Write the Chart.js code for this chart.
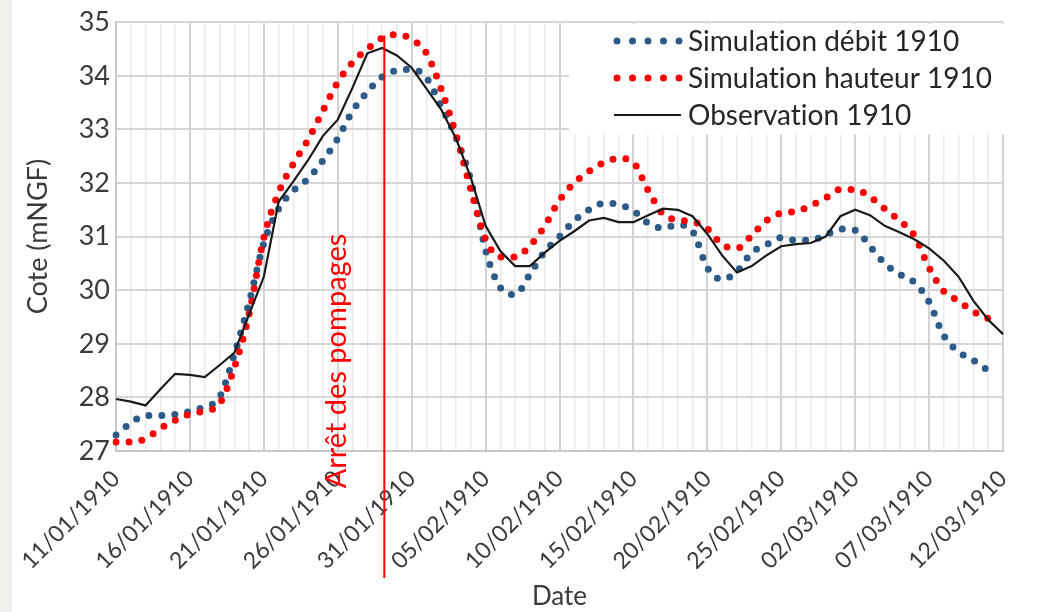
<!DOCTYPE html>
<html lang="fr">
<head>
<meta charset="utf-8">
<title>Cote 1910</title>
<script src="https://cdn.jsdelivr.net/npm/chart.js@4.4.1/dist/chart.umd.min.js"></script>
<style>
  body { margin: 0; background: #fff; }
  #wrap { width: 1038px; height: 612px; }
</style>
</head>
<body>
<div id="wrap"><canvas id="chart" width="1038" height="612"></canvas></div>
<script>
// daily dates, 11/01/1910 -> 12/03/1910
const dates = [
  '11/01/1910','12/01/1910','13/01/1910','14/01/1910','15/01/1910','16/01/1910','17/01/1910',
  '18/01/1910','19/01/1910','20/01/1910','21/01/1910','22/01/1910','23/01/1910','24/01/1910',
  '25/01/1910','26/01/1910','27/01/1910','28/01/1910','29/01/1910','30/01/1910','31/01/1910',
  '01/02/1910','02/02/1910','03/02/1910','04/02/1910','05/02/1910','06/02/1910','07/02/1910',
  '08/02/1910','09/02/1910','10/02/1910','11/02/1910','12/02/1910','13/02/1910','14/02/1910',
  '15/02/1910','16/02/1910','17/02/1910','18/02/1910','19/02/1910','20/02/1910','21/02/1910',
  '22/02/1910','23/02/1910','24/02/1910','25/02/1910','26/02/1910','27/02/1910','28/02/1910',
  '01/03/1910','02/03/1910','03/03/1910','04/03/1910','05/03/1910','06/03/1910','07/03/1910',
  '08/03/1910','09/03/1910','10/03/1910','11/03/1910','12/03/1910'
];

const simDebit = [
  27.30, 27.52, 27.66, 27.66, 27.68, 27.74, 27.83, 28.00, 28.80, 29.77,
  30.88, 31.52, 31.86, 32.08, 32.42, 32.83, 33.34, 33.70, 33.98, 34.10,
  34.12, 33.96, 33.43, 32.85, 32.05, 30.75, 30.05, 29.92, 30.30, 30.72,
  31.00, 31.30, 31.50, 31.62, 31.60, 31.48, 31.25, 31.16, 31.22, 31.10,
  30.42, 30.20, 30.35, 30.70, 30.85, 30.98, 30.93, 30.93, 31.03, 31.14,
  31.12, 30.82, 30.50, 30.30, 30.15, 29.78, 29.15, 28.85, 28.69, 28.50, null
];

const simHauteur = [
  27.17, 27.17, 27.23, 27.42, 27.57, 27.69, 27.75, 27.88, 28.55, 29.55,
  30.98, 31.82, 32.36, 32.81, 33.35, 33.88, 34.25, 34.50, 34.70, 34.77,
  34.68, 34.42, 33.75, 32.90, 31.88, 30.95, 30.62, 30.62, 30.83, 31.20,
  31.68, 32.00, 32.22, 32.38, 32.46, 32.38, 31.86, 31.42, 31.31, 31.28,
  31.15, 30.85, 30.78, 31.02, 31.30, 31.44, 31.47, 31.58, 31.72, 31.88,
  31.88, 31.74, 31.52, 31.30, 31.02, 30.42, 29.98, 29.80, 29.60, 29.47, null
];

const observation = [
  27.97, 27.92, 27.85, 28.15, 28.44, 28.42, 28.38, 28.60, 28.83, 29.55,
  30.25, 31.65, 32.03, 32.43, 32.88, 33.18, 33.78, 34.42, 34.52, 34.38,
  34.15, 33.76, 33.37, 32.83, 32.10, 31.20, 30.73, 30.45, 30.45, 30.70,
  30.92, 31.10, 31.30, 31.35, 31.27, 31.27, 31.40, 31.52, 31.50, 31.38,
  31.05, 30.65, 30.33, 30.45, 30.65, 30.82, 30.86, 30.88, 31.00, 31.38,
  31.50, 31.40, 31.20, 31.08, 30.95, 30.78, 30.55, 30.25, 29.80, 29.45, 29.18
];

const seriesNames = ['Simulation débit 1910', 'Simulation hauteur 1910', 'Observation 1910'];
const yMin = 27, yMax = 35;

// stop of the pumping, between 29/01 and 30/01
const pumpStopIndex = 18.15;
const pumpStopLabel = 'Arrêt des pompages';

const FONT = 'Lato, "Open Sans", sans-serif';
const TEXT = '#3a3a3a';

const background = {
  id: 'background',
  beforeDraw(chart) {
    const ctx = chart.ctx;
    ctx.save();
    ctx.fillStyle = '#ffffff';
    ctx.fillRect(0, 0, chart.width, chart.height);
    ctx.fillStyle = '#f1f0ec';
    ctx.fillRect(0, 0, 12, chart.height);
    ctx.restore();
  }
};

// white legend panel drawn over the grid, top right
const legendPanel = {
  id: 'legendPanel',
  beforeDatasetsDraw(chart) {
    const { ctx, chartArea } = chart;
    const left = 569;
    ctx.save();
    ctx.fillStyle = '#ffffff';
    ctx.fillRect(left, chartArea.top + 1.5, chartArea.right - left + 3, 133 - chartArea.top);

    chart.data.datasets.forEach((ds, i) => {
      const y = 41 + i * 37;
      ctx.strokeStyle = ds.borderColor;
      ctx.fillStyle = ds.borderColor;
      if (ds.borderDash && ds.borderDash.length) {
        for (let k = 0; k < 5; k++) {
          ctx.beginPath();
          ctx.arc(617 + k * 15.5, y, 3.5, 0, Math.PI * 2);
          ctx.fill();
        }
      } else {
        ctx.lineWidth = 2;
        ctx.beginPath();
        ctx.moveTo(614, y);
        ctx.lineTo(681, y);
        ctx.stroke();
      }
      ctx.fillStyle = '#262626';
      ctx.font = '28px ' + FONT;
      ctx.textRendering = 'optimizeSpeed'; // no "ti" ligature
      ctx.textBaseline = 'middle';
      ctx.textAlign = 'left';
      ctx.fillText(ds.label, 688, y + 1);
    });
    ctx.restore();
  }
};

// vertical red line + rotated label
const pumpStop = {
  id: 'pumpStop',
  afterDraw(chart) {
    const { ctx, scales } = chart;
    const x = scales.x.getPixelForValue(pumpStopIndex);
    const yTop = scales.y.getPixelForValue(34.75);
    ctx.save();
    ctx.strokeStyle = '#ff0000';
    ctx.lineWidth = 2;
    ctx.beginPath();
    ctx.moveTo(x, yTop);
    ctx.lineTo(x, 578);
    ctx.stroke();

    ctx.translate(x - 38, 361);
    ctx.rotate(-Math.PI / 2);
    ctx.fillStyle = '#ff0000';
    ctx.font = '29px ' + FONT;
    ctx.textAlign = 'center';
    ctx.textBaseline = 'alphabetic';
    ctx.fillText(pumpStopLabel, 0, 0);
    ctx.restore();
  }
};

new Chart(document.getElementById('chart'), {
  type: 'line',
  data: {
    labels: dates,
    datasets: [
      {
        label: seriesNames[0],
        data: simDebit,
        borderColor: '#2d5b88',
        borderWidth: 7,
        borderDash: [0, 13],
        borderCapStyle: 'round',
        cubicInterpolationMode: 'monotone',
        pointRadius: 0,
        order: 3
      },
      {
        label: seriesNames[1],
        data: simHauteur,
        borderColor: '#ff0000',
        borderWidth: 7,
        borderDash: [0, 13],
        borderCapStyle: 'round',
        cubicInterpolationMode: 'monotone',
        pointRadius: 0,
        order: 2
      },
      {
        label: seriesNames[2],
        data: observation,
        borderColor: '#1a1a1a',
        borderWidth: 2.2,
        tension: 0,
        pointRadius: 0,
        order: 1
      }
    ]
  },
  options: {
    responsive: false,
    animation: false,
    layout: { padding: { top: 19, right: 35, left: 0, bottom: 0 } },
    plugins: {
      legend: { display: false },
      tooltip: { enabled: false }
    },
    scales: {
      x: {
        afterFit: s => { s.height = 161; },
        grid: {
          drawTicks: false,
          color: c => (c.index % 5 === 0 ? '#d2d2d2' : '#e9e9e9'),
          lineWidth: c => (c.index % 5 === 0 ? 2 : 1.5)
        },
        border: { color: '#c8c8c8', width: 2 },
        ticks: {
          autoSkip: false,
          minRotation: 45,
          maxRotation: 45,
          padding: 14,
          color: TEXT,
          font: { family: FONT, size: 23 },
          callback: function (v, i) { return i % 5 === 0 ? this.getLabelForValue(v) : ''; }
        },
        title: {
          display: true,
          text: 'Date',
          color: TEXT,
          font: { family: FONT, size: 26 },
          padding: { top: 0, bottom: 0 }
        }
      },
      y: {
        min: yMin,
        max: yMax,
        afterFit: s => { s.width = 116; },
        grid: { drawTicks: false, color: '#d6d6d6', lineWidth: 2 },
        border: { color: '#c8c8c8', width: 2 },
        ticks: {
          stepSize: 1,
          padding: 6,
          color: TEXT,
          font: { family: FONT, size: 27 }
        },
        title: {
          display: true,
          text: 'Cote (mNGF)',
          color: TEXT,
          font: { family: FONT, size: 27 },
          padding: { top: 22, bottom: 0 }
        }
      }
    }
  },
  plugins: [background, legendPanel, pumpStop]
});
</script>
</body>
</html>
